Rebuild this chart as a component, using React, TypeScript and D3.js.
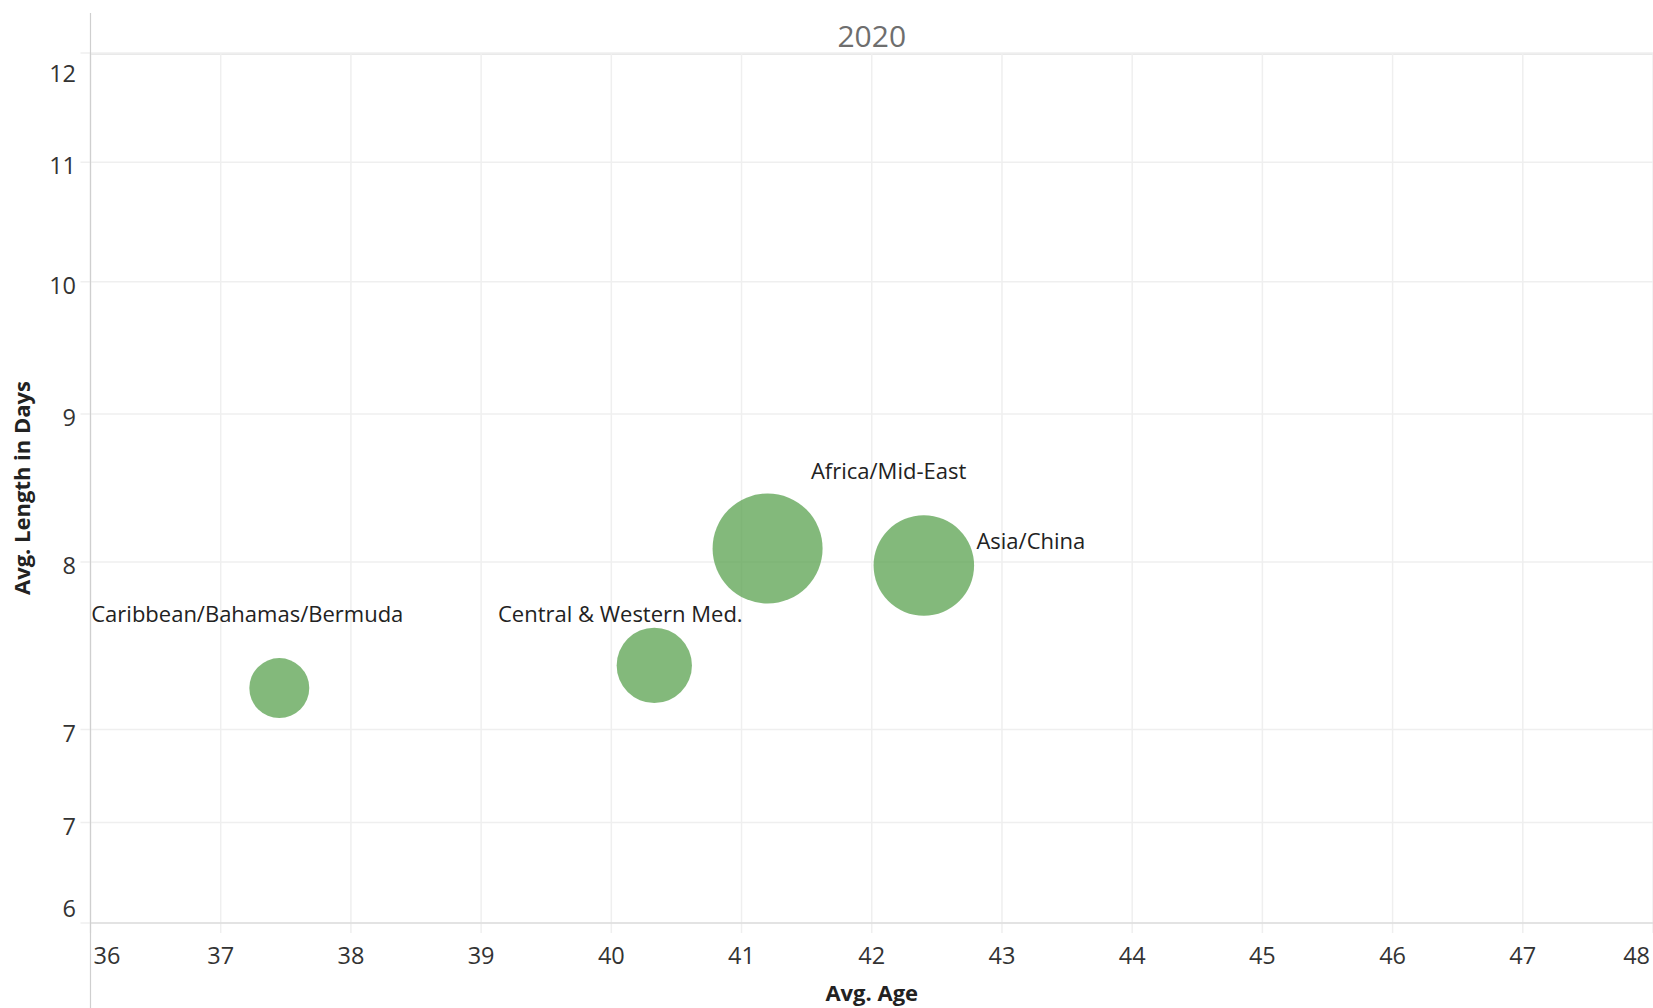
import React from "react";
import * as d3 from "d3";

// ---- data ----
const regions = ["Caribbean/Bahamas/Bermuda", "Central & Western Med.", "Africa/Mid-East", "Asia/China"];
const avgAge = [37.45, 40.33, 41.2, 42.4];
const avgLength = [7.235, 7.367, 8.086, 7.977];
const sizeValue = [9.0, 14.2, 30.3, 25.3];
const yTicks = [6, 6.5, 7, 8, 9, 10, 11, 12];
const xTicks = [36, 37, 38, 39, 40, 41, 42, 43, 44, 45, 46, 47, 48];
const panelTitle = "2020";

// ---- layout (label offsets relative to mark centre) ----
const labelOffset: Record<string, [number, number]> = {
  "Caribbean/Bahamas/Bermuda": [-32, -75],
  "Central & Western Med.": [-34, -52],
  "Africa/Mid-East": [121, -78],
  "Asia/China": [107, -26],
};

const W = 1653;
const H = 1008;
const left = 90.5;
const right = 1653;
const top = 53;
const bottom = 923;
const FONT = "'Open Sans', 'Noto Sans', sans-serif";

export default function App() {
  const x = d3.scaleLinear().domain([36, 48]).range([left, right]);
  const y = d3.scaleLog().domain([6, 12]).range([bottom, top]);
  const r = d3.scaleSqrt().domain([0, d3.max(sizeValue) as number]).range([0, 55]);
  const fmt = d3.format(".0f");

  return (
    <svg width={W} height={H} style={{ position: "absolute", left: 0, top: 0, background: "#fff" }} fontFamily={FONT}>
      {/* header */}
      <line x1={left} x2={right} y1={54} y2={54} stroke="#d4d4d4" strokeWidth={1} />
      <text x={(left + right) / 2} y={35} textAnchor="middle" dominantBaseline="central" fontSize={30} fill="#6e6e6e">
        {panelTitle}
      </text>

      {/* gridlines */}
      {yTicks.map((t, i) => (
        <line key={"gy" + i} x1={left - 10} x2={right} y1={y(t)} y2={y(t)} stroke="#efefef" strokeWidth={1.5} />
      ))}
      {xTicks.map((t, i) => (
        <line key={"gx" + i} x1={x(t)} x2={x(t)} y1={top} y2={bottom + 10} stroke="#efefef" strokeWidth={1.5} />
      ))}

      {/* axes lines */}
      <line x1={left} x2={right} y1={bottom} y2={bottom} stroke="#d4d4d4" strokeWidth={1.2} />
      <line x1={left} x2={left} y1={13} y2={H} stroke="#cfcfcf" strokeWidth={1.2} />

      {/* y tick labels */}
      {yTicks.map((t, i) => {
        const yy = Math.min(Math.max(y(t) + 3, top + 20), bottom - 15);
        return (
          <text key={"yl" + i} x={76} y={yy} textAnchor="end" dominantBaseline="central" fontSize={23.5} fill="#333">
            {fmt(t)}
          </text>
        );
      })}

      {/* x tick labels */}
      {xTicks.map((t, i) => {
        const first = i === 0;
        const last = i === xTicks.length - 1;
        return (
          <text
            key={"xl" + i}
            x={first ? x(t) + 3 : last ? x(t) - 3 : x(t)}
            y={955}
            textAnchor={first ? "start" : last ? "end" : "middle"}
            dominantBaseline="central"
            fontSize={23.5}
            fill="#333"
          >
            {t}
          </text>
        );
      })}

      {/* axis titles */}
      <text x={(left + right) / 2} y={992} textAnchor="middle" dominantBaseline="central" fontSize={22} fontWeight="bold" fill="#222">
        Avg. Age
      </text>
      <text
        transform={`translate(21,${(top + bottom) / 2}) rotate(-90)`}
        textAnchor="middle"
        dominantBaseline="central"
        fontSize={22}
        fontWeight="bold"
        fill="#222"
      >
        Avg. Length in Days
      </text>

      {/* marks */}
      {regions.map((name, i) => (
        <circle key={"c" + i} cx={x(avgAge[i])} cy={y(avgLength[i])} r={r(sizeValue[i])} fill="#59a14f" fillOpacity={0.75} />
      ))}

      {/* mark labels */}
      {regions.map((name, i) => {
        const [dx, dy] = labelOffset[name];
        return (
          <text
            key={"t" + i}
            x={x(avgAge[i]) + dx}
            y={y(avgLength[i]) + dy}
            textAnchor="middle"
            dominantBaseline="central"
            fontSize={22}
            fill="#222"
          >
            {name}
          </text>
        );
      })}
    </svg>
  );
}
